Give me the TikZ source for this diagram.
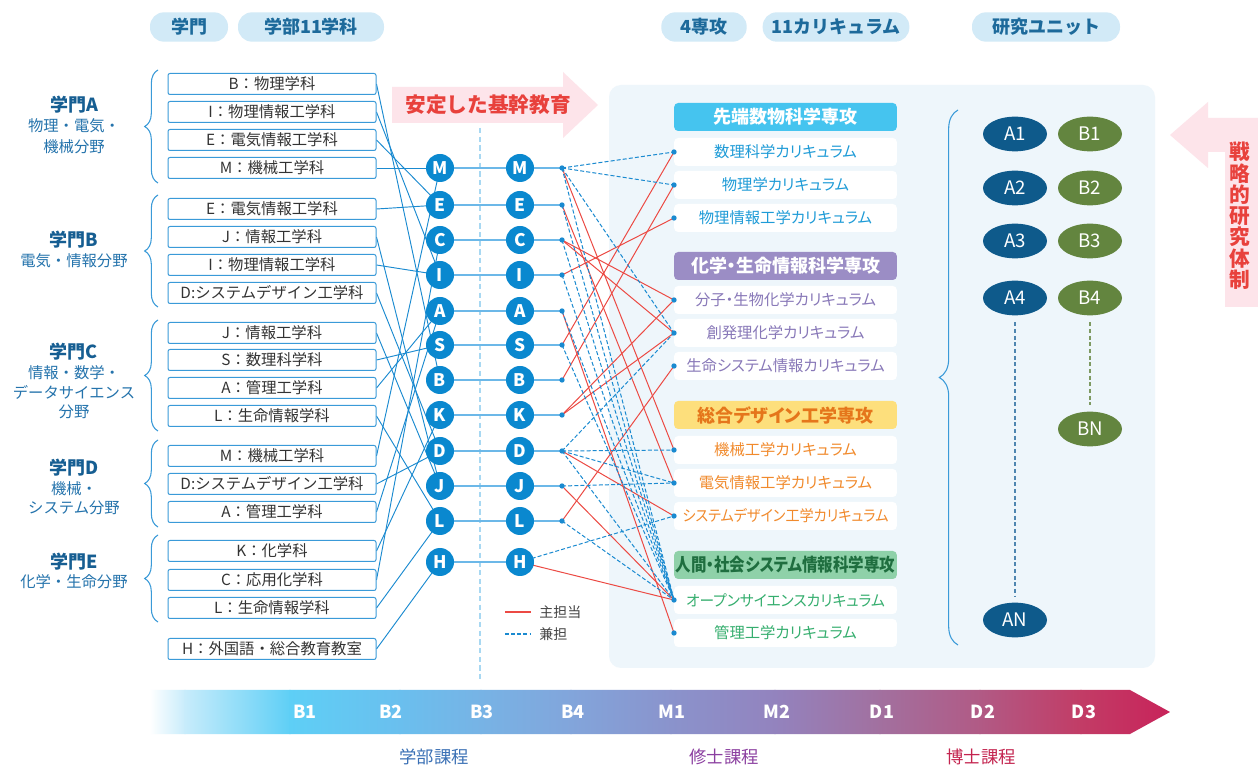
\documentclass[tikz,border=0pt]{standalone}
\usepackage{fontspec}
\setmainfont{Noto Sans CJK JP}
\newfontfamily\palfont[RawFeature=+palt]{Noto Sans CJK JP}
\usepackage{graphicx}
\usetikzlibrary{decorations.pathreplacing,shapes.geometric}
\definecolor{lineblue}{HTML}{1A8AD0}
\definecolor{boxblue}{HTML}{3A9AD8}
\definecolor{circblue}{HTML}{0A88CF}
\definecolor{lightln}{HTML}{6CB8E8}
\definecolor{gakumon}{HTML}{165E92}
\definecolor{sublab}{HTML}{2473AC}
\definecolor{boxtxt}{HTML}{333333}
\definecolor{redln}{HTML}{EC4A44}
\definecolor{redtxt}{HTML}{E8413C}
\definecolor{pinkc}{HTML}{FDE4EA}
\definecolor{panelc}{HTML}{EEF6FB}
\definecolor{pillc}{HTML}{D2EAF7}
\definecolor{pilltxt}{HTML}{1D6A9B}
\definecolor{hdcyan}{HTML}{45C4EF}
\definecolor{hdpurple}{HTML}{9B8DC5}
\definecolor{hdyellow}{HTML}{FDDF7C}
\definecolor{hdgreen}{HTML}{8FD1A9}
\definecolor{txcyan}{HTML}{1E9BD7}
\definecolor{txpurple}{HTML}{8878B8}
\definecolor{txorange}{HTML}{F18A2C}
\definecolor{txhdorange}{HTML}{E5761B}
\definecolor{txgreen}{HTML}{35AE6E}
\definecolor{txhdgreen}{HTML}{1F6E3F}
\definecolor{unitA}{HTML}{0E5A8B}
\definecolor{unitB}{HTML}{63853F}
\definecolor{vdashc}{HTML}{A8D8F2}
\definecolor{adash}{HTML}{4F86B0}
\definecolor{bdash}{HTML}{7E9A62}
\definecolor{legtxt}{HTML}{444444}
\definecolor{g0}{HTML}{FFFFFF}
\definecolor{g1}{HTML}{C8ECFB}
\definecolor{g2}{HTML}{5ECFF6}
\definecolor{g3}{HTML}{6ABFEE}
\definecolor{g4}{HTML}{77B3E5}
\definecolor{g5}{HTML}{82A5DB}
\definecolor{g6}{HTML}{8A93CC}
\definecolor{g7}{HTML}{9383BE}
\definecolor{g8}{HTML}{A2709F}
\definecolor{g9}{HTML}{B15A85}
\definecolor{g10}{HTML}{C23C66}
\definecolor{g11}{HTML}{C8235A}
\definecolor{lab1}{HTML}{3A70B5}
\definecolor{lab2}{HTML}{8B3FA0}
\definecolor{lab3}{HTML}{C4244F}
\pgfdeclarelayer{back}
\pgfdeclarelayer{bg}
\pgfsetlayers{back,bg,main}
\begin{document}
\begin{tikzpicture}[x=0.75pt,y=-0.75pt,
  pill/.style={fill=pillc, rounded corners=10.5pt, minimum height=22pt, inner sep=0pt, text=pilltxt, font=\fontsize{13.5}{14}\selectfont\bfseries},
  gbox/.style={draw=boxblue, line width=0.75pt, rounded corners=1.5pt, fill=white, minimum width=156pt, minimum height=15.75pt, inner sep=0pt, text=boxtxt, font=\fontsize{11.5}{12}\selectfont},
  circ/.style={circle, fill=circblue, minimum size=21pt, inner sep=0pt, text=white, font=\fontsize{13}{13}\selectfont\bfseries},
  dotn/.style={circle, fill=lineblue, minimum size=4pt, inner sep=0pt},
  gk/.style={text=gakumon, font=\fontsize{13.5}{14}\selectfont\bfseries, inner sep=0pt},
  gs/.style={text=sublab, font=\fontsize{11.5}{12}\selectfont, inner sep=0pt},
  lbrace/.style={draw=boxblue, line width=0.8pt, decorate, decoration={brace, amplitude=10pt}},
  lnk/.style={draw=lineblue, line width=0.7pt},
  hline/.style={draw=lightln, line width=1.4pt},
  rl/.style={draw=redln, line width=0.75pt},
  dl/.style={draw=lineblue, line width=0.75pt, dash pattern=on 3pt off 1.6pt},
  cur/.style={fill=white, rounded corners=3pt, minimum width=167pt, minimum height=21pt, inner sep=0pt, font=\palfont\fontsize{11.5}{12}\selectfont},
  hdr/.style={rounded corners=3pt, minimum width=167pt, minimum height=21pt, inner sep=0pt, font=\palfont\fontsize{13.5}{13.5}\selectfont\bfseries},
  ua/.style={ellipse, fill=unitA, minimum width=48pt, minimum height=26pt, inner sep=0pt, text=white, font=\fontsize{14}{14}\selectfont},
  ub/.style={ellipse, fill=unitB, minimum width=48pt, minimum height=26pt, inner sep=0pt, text=white, font=\fontsize{14}{14}\selectfont},
  yr/.style={text=white, font=\fontsize{13.5}{14}\selectfont\bfseries, inner sep=0pt},
  crs/.style={font=\fontsize{13}{13}\selectfont, inner sep=0pt}
]
\useasboundingbox (0,0) rectangle (1258,766);
\begin{pgfonlayer}{back}
\fill[white] (0,0) rectangle (1258,766);
\fill[panelc, rounded corners=9pt] (609,85) rectangle (1155,668);
% pink arrow (stable education)
\fill[pinkc] (392,87) -- (563,87) -- (563,72) -- (598,105) -- (563,138) -- (563,123) -- (392,123) -- cycle;
% right pink arrow
\fill[pinkc] (1170,135) -- (1208,102) -- (1208,118) -- (1258,118) -- (1258,307) -- (1225,307) -- (1225,152) -- (1208,152) -- (1208,168) -- cycle;
% bottom gradient arrow
\begin{scope}
\clip (150,690) -- (1130,690) -- (1170,712) -- (1130,734) -- (150,734) -- cycle;
\foreach \xa/\xb/\ca/\cb in {150/185/g0/g1,185/290/g1/g2,290/400/g2/g3,400/481/g3/g4,481/571/g4/g5,571/671/g5/g6,671/775/g6/g7,775/880/g7/g8,880/980/g8/g9,980/1081/g9/g10,1081/1171/g10/g11}
  \shade[left color=\ca, right color=\cb] (\xa-0.6,688) rectangle (\xb+0.6,736);
\end{scope}
\end{pgfonlayer}

% top pills
\node[pill, minimum width=58.5pt] (t1) at (189,27) {学門};
\node[pill, minimum width=109.5pt] (t2) at (311,27) {学部11学科};
\node[pill, minimum width=64pt] (t3) at (704,27) {4専攻};
\node[pill, minimum width=110pt] (t4) at (836,27) {11カリキュラム};
\node[pill, minimum width=111pt] (t5) at (1046,27) {研究ユニット};

% stable education label
\node[text=redtxt, font=\fontsize{15.5}{16}\selectfont\bfseries, inner sep=0pt] (stab) at (488,105) {安定した基幹教育};

% vertical text
\foreach \ch [count=\i] in {戦,略,的,研,究,体,制}
  \node[text=redtxt, font=\fontsize{15.5}{16}\selectfont\bfseries, inner sep=0pt] (v\i) at (1240,{152+(\i-1)*21.3}) {\ch};

% gakumon labels
\node[gk] (gA) at (74,105) {学門A};
\node[gs] (gA1) at (74,126) {物理・電気・};
\node[gs] (gA2) at (74,147) {機械分野};
\node[gk] (gB) at (74,240) {学門B};
\node[gs] (gB1) at (74,261) {電気・情報分野};
\node[gk] (gC) at (74,352) {学門C};
\node[gs] (gC1) at (74,373) {情報・数学・};
\node[gs] (gC2) at (74,392) {データサイエンス};
\node[gs] (gC3) at (74,412) {分野};
\node[gk] (gD) at (74,468) {学門D};
\node[gs] (gD1) at (74,489) {機械・};
\node[gs] (gD2) at (74,508) {システム分野};
\node[gk] (gE) at (74,562) {学門E};
\node[gs] (gE1) at (74,582) {化学・生命分野};

% braces
\draw[lbrace] (158,183) -- (158,70);
\draw[lbrace] (158,307) -- (158,195);
\draw[lbrace] (158,431) -- (158,320);
\draw[lbrace] (158,527) -- (158,440);
\draw[lbrace] (158,622) -- (158,535);
\draw[draw=boxblue, line width=0.8pt, decorate, decoration={brace, amplitude=14pt}] (958,645) -- (958,110);

% department boxes
\foreach \i/\y/\t in {1/84/B：物理学科,2/112/I：物理情報工学科,3/140/E：電気情報工学科,4/168/M：機械工学科,5/209/E：電気情報工学科,6/237/J：情報工学科,7/265/I：物理情報工学科,8/293/D:システムデザイン工学科,9/333/J：情報工学科,10/360/S：数理科学科,11/388/A：管理工学科,12/416/L：生命情報学科,13/456/M：機械工学科,14/484/D:システムデザイン工学科,15/512/A：管理工学科,16/551/K：化学科,17/580/C：応用化学科,18/608/L：生命情報学科,19/649/H：外国語・総合教育教室}
  \node[gbox] (b\i) at (272,\y) {\t};

% circles
\foreach \c/\y in {M/168,E/205,C/240,I/275,A/311,S/345,B/380,K/415,D/451,J/486,L/521,H/562} {
  \node[circ] (p\c) at (440,\y) {\c};
  \node[circ] (q\c) at (520,\y) {\c};
}
\foreach \c/\y in {M/168,E/205,C/240,I/275,A/311,S/345,B/380,K/415,D/451,J/486,L/521}
  \node[dotn] (d\c) at (562,\y) {};

% majors
\node[hdr, fill=hdcyan, text=white] (h1) at (785.5,117) {先端数物科学専攻};
\node[hdr, fill=hdpurple, text=white] (h2) at (785.5,266) {化学・生命情報科学専攻};
\node[hdr, fill=hdyellow, text=txhdorange] (h3) at (785.5,415) {総合デザイン工学専攻};
\node[hdr, fill=hdgreen, text=txhdgreen] (h4) at (785.5,565) {\scalebox{0.86}[1]{人間・社会システム情報科学専攻}};

% curricula
\foreach \i/\y/\t/\col in {1/152/数理科学カリキュラム/txcyan,2/185/物理学カリキュラム/txcyan,3/218/物理情報工学カリキュラム/txcyan,4/300/分子・生物化学カリキュラム/txpurple,5/333/創発理化学カリキュラム/txpurple,6/366/生命システム情報カリキュラム/txpurple,7/450/機械工学カリキュラム/txorange,8/483/電気情報工学カリキュラム/txorange,9/516/\scalebox{0.92}[1]{システムデザイン工学カリキュラム}/txorange,10/600/\scalebox{0.96}[1]{オープンサイエンスカリキュラム}/txgreen,11/633/管理工学カリキュラム/txgreen} {
  \node[cur, text=\col] (c\i) at (785.5,\y) {\t};
  \node[dotn] (k\i) at (674,\y) {};
}

% research units
\foreach \n/\y in {1/134,2/188,3/241,4/298} {
  \node[ua] (uA\n) at (1015,\y) {A\n};
  \node[ub] (uB\n) at (1090,\y) {B\n};
}
\node[ub] (uBN) at (1090,429) {BN};
\node[ua] (uAN) at (1015,620) {AN};
\draw[adash, line width=0.9pt, dash pattern=on 3pt off 2pt, shorten <=5pt, shorten >=5pt] (uA4.south) -- (uAN.north);
\draw[bdash, line width=0.9pt, dash pattern=on 3pt off 2pt, shorten <=5pt, shorten >=5pt] (uB4.south) -- (uBN.north);

% legend
\coordinate (lr1) at (505,612); \coordinate (lr2) at (531,612);
\coordinate (lb1) at (505,634); \coordinate (lb2) at (531,634);
\draw[draw=redln, line width=0.9pt] (lr1) -- (lr2);
\draw[draw=lineblue, line width=0.9pt, dash pattern=on 3pt off 1.6pt] (lb1) -- (lb2);
\node[anchor=west, text=legtxt, font=\fontsize{10.5}{11}\selectfont, inner sep=0pt] (leg1) at (539,612) {主担当};
\node[anchor=west, text=legtxt, font=\fontsize{10.5}{11}\selectfont, inner sep=0pt] (leg2) at (539,634) {兼担};

% timeline labels
\foreach \t/\x [count=\i] in {B1/305,B2/391,B3/482,B4/573,M1/672,M2/777,D1/882,D2/983,D3/1084}
  \node[yr] (y\i) at (\x,712) {\t};
\node[crs, text=lab1] (cr1) at (434,757) {学部課程};
\node[crs, text=lab2] (cr2) at (724,757) {修士課程};
\node[crs, text=lab3] (cr3) at (981,757) {博士課程};

% connectors (below nodes)
\begin{pgfonlayer}{bg}
\coordinate (vd1) at (480,128); \coordinate (vd2) at (480,680);
\draw[draw=vdashc, line width=1pt, dash pattern=on 4pt off 2.5pt] (vd1) -- (vd2);
\foreach \i/\c in {1/B,2/I,3/E,4/M,5/E,6/J,7/I,8/D,9/J,10/S,11/A,12/L,13/M,14/D,15/A,16/K,17/C,18/L,19/H}
  \draw[lnk] (b\i.east) -- (p\c.center);
\foreach \c in {M,E,C,I,A,S,B,K,D,J,L}
  \draw[hline] (p\c.center) -- (q\c.center) -- (d\c.center);
\draw[hline] (pH.center) -- (qH.center);
\foreach \a/\b in {dM/k7,dE/k8,dC/k4,dC/k5,dI/k3,dA/k11,dS/k1,dB/k2,dK/k4,dK/k5,dD/k9,dJ/k10,dL/k6,qH/k10}
  \draw[rl] (\a.center) -- (\b.center);
\foreach \a/\b in {dM/k1,dM/k2,dM/k5,dM/k10,dE/k10,dC/k10,dI/k10,dA/k10,dS/k10,dD/k7,dD/k8,dD/k5,dD/k10,dJ/k8,dL/k10,qH/k9}
  \draw[dl] (\a.center) -- (\b.center);
\end{pgfonlayer}
\end{tikzpicture}
\end{document}
